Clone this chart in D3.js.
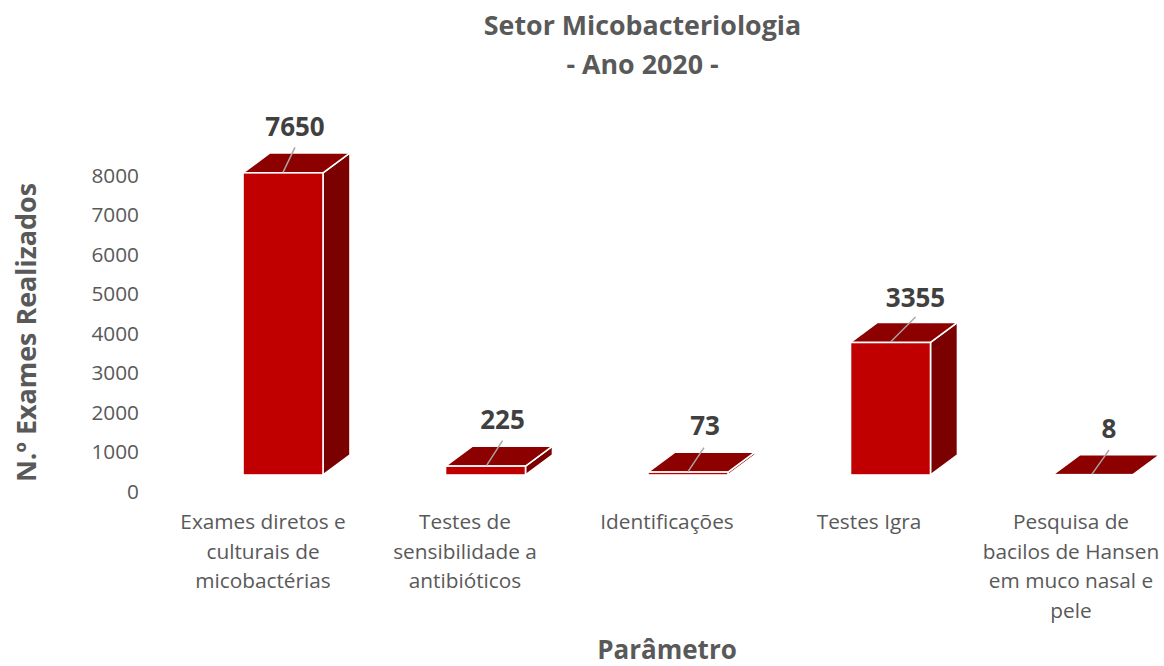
<!DOCTYPE html>
<html><head><meta charset="utf-8">
<script src="https://cdn.jsdelivr.net/npm/d3@7/dist/d3.min.js"></script>
<style>html,body{margin:0;background:#fff}svg{display:block}text{font-family:"Open Sans",sans-serif}</style>
</head><body><svg id="c" width="1164" height="666"></svg>
<script>
const categories=["Exames diretos e culturais de micobactérias","Testes de sensibilidade a antibióticos","Identificações","Testes Igra","Pesquisa de bacilos de Hansen em muco nasal e pele"];
const categoryLines=[["Exames diretos e","culturais de","micobactérias"],["Testes de","sensibilidade a","antibióticos"],["Identificações"],["Testes Igra"],["Pesquisa de","bacilos de Hansen","em muco nasal e","pele"]];
const values=[7650,225,73,3355,8];
const yTicks=[0,1000,2000,3000,4000,5000,6000,7000,8000];
const title=["Setor Micobacteriologia","- Ano 2020 -"];
const xTitle="Parâmetro", yTitle="N.º Exames Realizados";

const svg=d3.select("#c");
const y=d3.scaleLinear().domain([0,8000]).range([475,159]);
const x=d3.scaleBand().domain(categories).range([181.75,1194.25]).paddingInner(0.605).paddingOuter(0.3025);
const xLab=d3.scaleBand().domain(categories).range([162,1172]);
const dx=27,dy=-20;
const leaderOff=[[0,12,-25],[1,17,-25],[0,16,-24],[0,25,-25],[-1,16,-24]];
const labelDx=[12,17,17,25,16];
const labelBase=[136,429,435,307,438];
const w=x.bandwidth();

// bars
const g=svg.append("g").selectAll("g").data(values).join("g");
const pts=a=>a.map(p=>p.join(",")).join(" ");
g.append("polygon").attr("points",(d,i)=>{const l=x(categories[i]),t=y(d);return pts([[l+w,t],[l+w+dx,t+dy],[l+w+dx,y(0)+dy],[l+w,y(0)]]);})
 .attr("fill","#7b0000").attr("stroke","#fff").attr("stroke-width",1.6).attr("stroke-linejoin","round");
g.append("polygon").attr("points",(d,i)=>{const l=x(categories[i]),t=y(d);return pts([[l,t],[l+w,t],[l+w+dx,t+dy],[l+dx,t+dy]]);})
 .attr("fill","#8c0000").attr("stroke","#fff").attr("stroke-width",1.6).attr("stroke-linejoin","round");
g.append("rect").attr("x",(d,i)=>x(categories[i])).attr("y",d=>y(d)).attr("width",w).attr("height",d=>y(0)-y(d))
 .attr("fill","#c00000").attr("stroke","#fff").attr("stroke-width",1.6);

// leaders
g.append("line")
 .attr("x1",(d,i)=>x(categories[i])+w/2+leaderOff[i][0]).attr("y1",d=>y(d)-0.5)
 .attr("x2",(d,i)=>x(categories[i])+w/2+leaderOff[i][1]).attr("y2",(d,i)=>y(d)-0.5+leaderOff[i][2])
 .attr("stroke","#a6a6a6").attr("stroke-width",1.5);

// value labels
g.append("text").text(d=>d).attr("text-anchor","middle")
 .attr("x",(d,i)=>x(categories[i])+w/2+labelDx[i]).attr("y",(d,i)=>labelBase[i])
 .attr("font-size",26).attr("font-weight",700).attr("fill","#404040");

// y axis
const ay=svg.append("g").attr("transform","translate(139,16.5)").call(d3.axisLeft(y).tickValues(yTicks).tickSize(0).tickPadding(0).tickFormat(d3.format("d")));
ay.select(".domain").remove();
ay.selectAll("text").attr("font-size",20.8).attr("fill","#595959").style("font-family",'"Open Sans",sans-serif');

// category labels
svg.append("g").selectAll("text").data(categoryLines).join("text")
 .attr("text-anchor","middle").attr("font-size",20.8).attr("fill","#595959")
 .each(function(lines,i){
   d3.select(this).selectAll("tspan").data(lines).join("tspan")
     .attr("x",xLab(categories[i])+xLab.bandwidth()/2).attr("y",(l,j)=>529+j*29.7).text(l=>l);
 });

// titles
svg.selectAll(".t").data(title).join("text").attr("class","t").attr("text-anchor","middle")
 .attr("x",642.5).attr("y",(d,i)=>34.5+i*39).attr("font-size",26.8).attr("font-weight",700).attr("fill","#595959").text(d=>d);
svg.append("text").attr("text-anchor","middle").attr("x",667).attr("y",658.5).attr("font-size",26).attr("font-weight",700).attr("fill","#595959").text(xTitle);
svg.append("text").attr("text-anchor","middle").attr("transform","translate(36,332.5) rotate(-90)").attr("font-size",26.9).attr("font-weight",700).attr("fill","#595959").text(yTitle);
</script></body></html>
